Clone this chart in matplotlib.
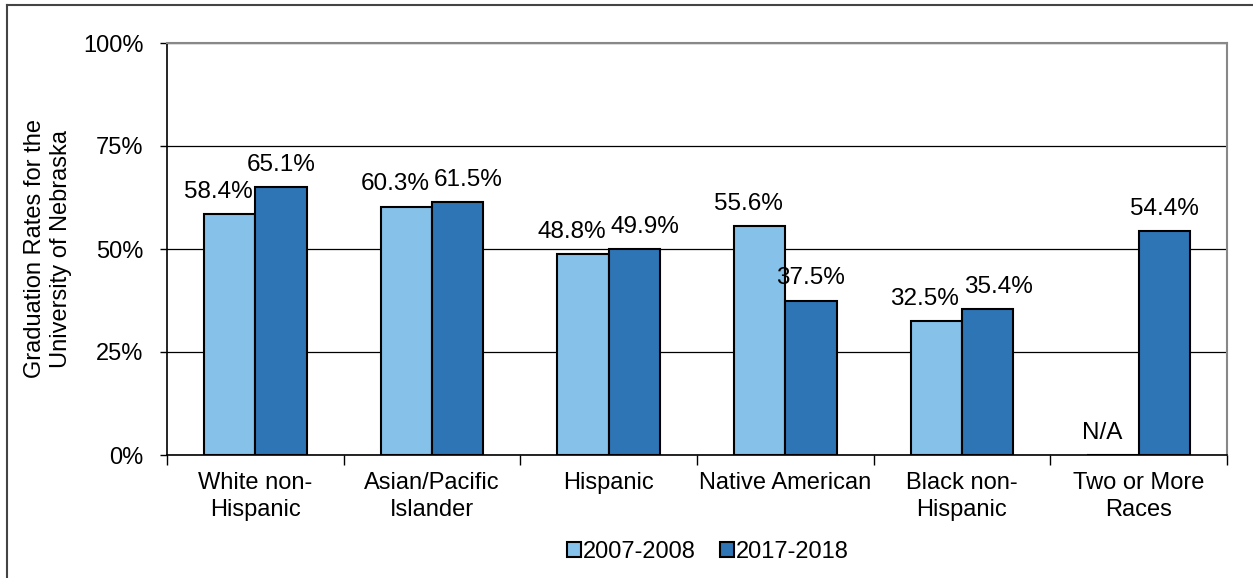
import matplotlib
matplotlib.use("Agg")
import matplotlib.pyplot as plt
import numpy as np
from matplotlib.patches import Patch

plt.rcParams['font.family'] = ['Liberation Sans', 'DejaVu Sans']

categories = ["White non-\nHispanic", "Asian/Pacific\nIslander", "Hispanic",
              "Native American", "Black non-\nHispanic", "Two or More\nRaces"]
series_names = ["2007-2008", "2017-2018"]
rates_2007 = [58.4, 60.3, 48.8, 55.6, 32.5, np.nan]
rates_2017 = [65.1, 61.5, 49.9, 37.5, 35.4, 54.4]
yticks = [0, 25, 50, 75, 100]
ytick_labels = ["0%", "25%", "50%", "75%", "100%"]

c_light = "#85C1E9"
c_dark = "#2E75B6"

fig = plt.figure(figsize=(12.53, 5.78), dpi=100)
ax = fig.add_axes([167/1253, 1 - 455/578, (1227-167)/1253, (455-43)/578])

x = np.arange(len(categories))
w = 0.29
v1 = np.nan_to_num(np.array(rates_2007, dtype=float))
v2 = np.array(rates_2017, dtype=float)
ax.bar(x - w/2, v1, w, color=c_light, edgecolor="black", linewidth=1.5, zorder=3)
ax.bar(x + w/2, v2, w, color=c_dark, edgecolor="black", linewidth=1.5, zorder=3)

fs = 17
vfam = ['Liberation Sans Narrow', 'Liberation Sans', 'DejaVu Sans']
vkw = dict(textcoords="offset points", va="bottom", fontsize=17.5, family=vfam, zorder=4)
for i in range(len(categories)):
    a = rates_2007[i]
    b = rates_2017[i]
    close = (not np.isnan(a)) and abs(a - b) < 5
    if np.isnan(a):
        ax.annotate("N/A", (x[i] - 0.09, 0), xytext=(0, 8), ha="right", **vkw)
    else:
        ax.annotate(f"{a:.1f}%", (x[i] - 0.015, a), xytext=(0, 8), ha="right", **vkw)
    if close:
        ax.annotate(f"{b:.1f}%", (x[i] + 0.01, b), xytext=(0, 8), ha="left", **vkw)
    else:
        ax.annotate(f"{b:.1f}%", (x[i] + w/2, b), xytext=(0, 8), ha="center", **vkw)

ax.set_xlim(-0.5, len(categories) - 0.5)
ax.set_ylim(0, 100)
ax.set_yticks(yticks)
ax.set_yticklabels(ytick_labels, fontsize=fs)
ax.yaxis.grid(True, color="black", linewidth=0.9, zorder=0)
ax.set_axisbelow(True)

ax.set_xticks(x)
ax.set_xticklabels(categories, fontsize=fs, linespacing=1.3)
ax.tick_params(axis="x", length=0, pad=12)
ax.set_xticks(np.arange(len(categories) + 1) - 0.5, minor=True)
ax.tick_params(axis="x", which="minor", length=7, width=1, color="black", direction="out")
ax.tick_params(axis="y", length=5, width=1, direction="out", pad=12)

for s in ["top", "right"]:
    ax.spines[s].set_color("#888888")
    ax.spines[s].set_linewidth(1.5)
for s in ["left", "bottom"]:
    ax.spines[s].set_color("black")
    ax.spines[s].set_linewidth(1.2)

ax.set_ylabel("Graduation Rates for the\nUniversity of Nebraska", fontsize=fs, labelpad=8,
              linespacing=1.25)

handles = [Patch(facecolor=c_light, edgecolor="black", linewidth=1.5),
           Patch(facecolor=c_dark, edgecolor="black", linewidth=1.5)]
fig.legend(handles, series_names, loc="center", bbox_to_anchor=(708/1253, 1 - 552/578),
           ncol=2, frameon=False, fontsize=fs, handlelength=0.6, handleheight=0.6,
           handletextpad=0.1, columnspacing=1.0)

# outer frame (left and top edges visible)
fig.add_artist(plt.Line2D([7/1253, 7/1253], [0, 1 - 5/578], transform=fig.transFigure,
                          color="#444444", linewidth=1.5))
fig.add_artist(plt.Line2D([7/1253, 1], [1 - 5/578, 1 - 5/578], transform=fig.transFigure,
                          color="#444444", linewidth=1.5))

fig.savefig("out.png", dpi=100)
